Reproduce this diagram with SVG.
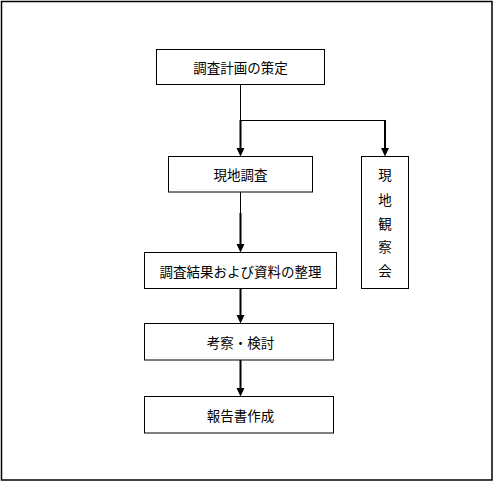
<svg xmlns="http://www.w3.org/2000/svg" width="494" height="482" viewBox="0 0 494 482">
<style>
.box{fill:#fff;stroke:#000;stroke-width:1}
.t{font-family:"Noto Sans CJK JP","Noto Sans CJK SC",sans-serif;font-size:13.5px;fill:#000;text-anchor:middle;dominant-baseline:central}
.thin{stroke:#000;stroke-width:1;fill:none}
.thick{stroke:#000;stroke-width:2;fill:none}
.ah{fill:#000}
</style>
<rect x="1.5" y="1.5" width="490.5" height="478.5" fill="#fff" stroke="#000" stroke-width="1.5"/>
<g id="connectors">
<line class="thin" x1="240.5" y1="84" x2="240.5" y2="120.5"/>
<line class="thin" x1="240" y1="120.5" x2="385" y2="120.5"/>
<line class="thick" x1="240.5" y1="120" x2="240.5" y2="150"/>
<path class="ah" d="M236.5,148 L244.5,148 L240.5,156.5 Z"/>
<line class="thick" x1="385" y1="120" x2="385" y2="150"/>
<path class="ah" d="M381,148 L389,148 L385,156.5 Z"/>
<line class="thin" x1="240.5" y1="192" x2="240.5" y2="214"/>
<line class="thick" x1="240.5" y1="213" x2="240.5" y2="246"/>
<path class="ah" d="M236.5,244 L244.5,244 L240.5,252.5 Z"/>
<line class="thick" x1="240.5" y1="288" x2="240.5" y2="317"/>
<path class="ah" d="M236.5,315 L244.5,315 L240.5,323.5 Z"/>
<line class="thick" x1="240.5" y1="360" x2="240.5" y2="390"/>
<path class="ah" d="M236.5,388 L244.5,388 L240.5,396.5 Z"/>
</g>
<g id="n1"><rect class="box" x="156.5" y="49.5" width="168" height="35"/><text class="t" x="240.5" y="67">調査計画の策定</text></g>
<g id="n2"><rect class="box" x="168.5" y="156.5" width="144" height="35.5"/><text class="t" x="240.5" y="174">現地調査</text></g>
<g id="n3"><rect class="box" x="361.5" y="156.5" width="47" height="132"/>
<text class="t" x="385" y="174">現</text><text class="t" x="385" y="198.5">地</text><text class="t" x="385" y="222.5">観</text><text class="t" x="385" y="246">察</text><text class="t" x="385" y="270">会</text></g>
<g id="n4"><rect class="box" x="144.5" y="252.5" width="192" height="36"/><text class="t" x="240.5" y="270.5">調査結果および資料の整理</text></g>
<g id="n5"><rect class="box" x="144.5" y="323.5" width="189" height="36.5"/><text class="t" x="240.5" y="341.5">考察・検討</text></g>
<g id="n6"><rect class="box" x="144.5" y="396.5" width="189" height="36.5"/><text class="t" x="240.5" y="414.5">報告書作成</text></g>
</svg>
